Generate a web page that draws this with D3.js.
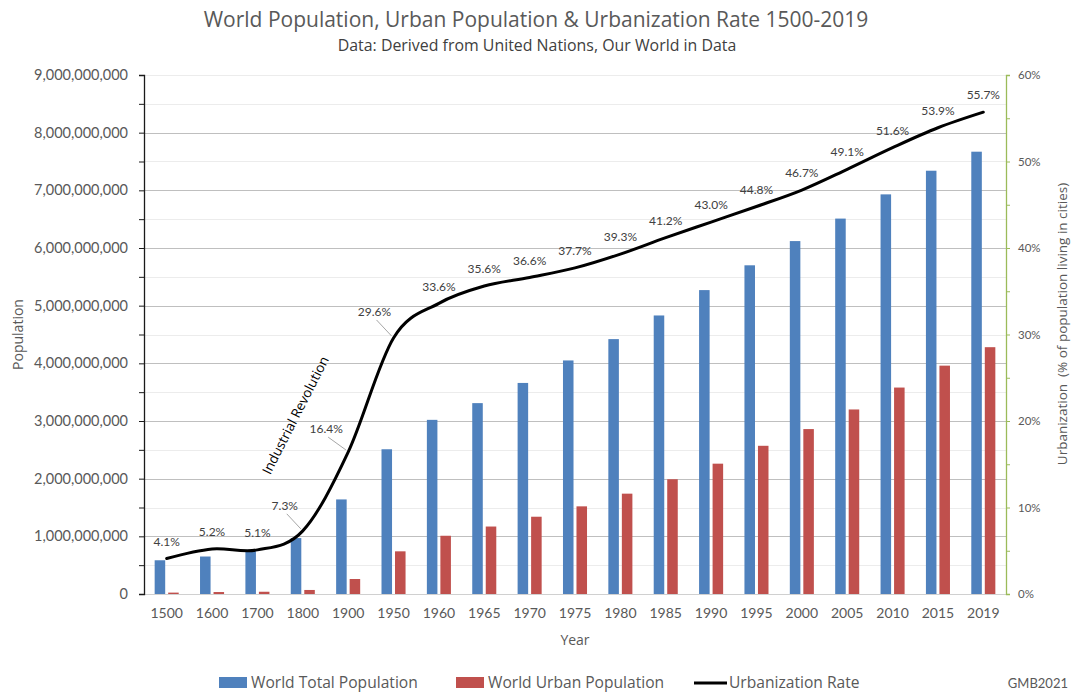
<!DOCTYPE html>
<html>
<head>
<meta charset="utf-8">
<script src="https://cdn.jsdelivr.net/npm/d3@7"></script>
<style>
  html, body { margin: 0; padding: 0; background: #ffffff; }
  svg { display: block; font-family: Lato, "Open Sans", sans-serif; }
</style>
</head>
<body>
<svg id="chart" width="1072" height="695"></svg>
<script>
// ---- data ----
const years = ["1500","1600","1700","1800","1900","1950","1960","1965","1970","1975","1980","1985","1990","1995","2000","2005","2010","2015","2019"];
const totalPopulation = [585e6, 650e6, 760e6, 970e6, 1640e6, 2510e6, 3020e6, 3310e6, 3660e6, 4050e6, 4420e6, 4830e6, 5270e6, 5700e6, 6120e6, 6510e6, 6930e6, 7340e6, 7670e6];
const urbanPopulation = [24e6, 34e6, 39e6, 70e6, 260e6, 740e6, 1010e6, 1170e6, 1340e6, 1520e6, 1740e6, 1990e6, 2260e6, 2570e6, 2860e6, 3200e6, 3580e6, 3960e6, 4280e6];
const urbanizationRate = [4.1, 5.2, 5.1, 7.3, 16.4, 29.6, 33.6, 35.6, 36.6, 37.7, 39.3, 41.2, 43.0, 44.8, 46.7, 49.1, 51.6, 53.9, 55.7];
const popTicks = d3.range(0, 9e9 + 1, 5e8);
const rateTicks = d3.range(0, 61, 5);
const seriesNames = ["World Total Population", "World Urban Population", "Urbanization Rate"];

// ---- layout ----
const svg = d3.select("#chart");
const L = 144, R = 1006, T = 75, B = 594;
const blue = "#4f81bd", red = "#c0504d", green = "#9bbb59", txt = "#595959";
const OS = "'Open Sans', Lato, sans-serif";

const x = d3.scaleBand().domain(years).range([L, R]).paddingInner(0.47).paddingOuter(0.235);
const x1 = d3.scaleBand().domain(["total", "urban"]).range([0, x.bandwidth()]).paddingInner(0.22);
const yL = d3.scaleLinear().domain([0, 9e9]).range([B, T]);
const yR = d3.scaleLinear().domain([0, 60]).range([B, T]);
const xc = d => x(d) + x.bandwidth() / 2;

// gridlines
svg.append("g").selectAll("line").data(popTicks.filter(v => v > 0)).join("line")
  .attr("x1", L).attr("x2", R)
  .attr("y1", d => Math.round(yL(d)) + 0.5).attr("y2", d => Math.round(yL(d)) + 0.5)
  .attr("stroke", d => (d % 1e9 === 0 && d < 9e9) ? "#bfbfbf" : "#ececec")
  .attr("stroke-width", 1);

// x baseline
svg.append("line").attr("x1", L).attr("x2", R).attr("y1", B + 0.5).attr("y2", B + 0.5)
  .attr("stroke", "#d0d0d0");

// bars
const rows = years.map((yr, i) => ({ yr, total: totalPopulation[i], urban: urbanPopulation[i], rate: urbanizationRate[i] }));
const gBars = svg.append("g");
gBars.selectAll("rect.t").data(rows).join("rect").attr("class", "t")
  .attr("x", d => x(d.yr) + x1("total")).attr("width", x1.bandwidth())
  .attr("y", d => yL(d.total)).attr("height", d => B - yL(d.total))
  .attr("fill", blue);
gBars.selectAll("rect.u").data(rows).join("rect").attr("class", "u")
  .attr("x", d => x(d.yr) + x1("urban")).attr("width", x1.bandwidth())
  .attr("y", d => yL(d.urban)).attr("height", d => B - yL(d.urban))
  .attr("fill", red);

// left axis
const axL = svg.append("g").attr("transform", `translate(${L},0)`)
  .call(d3.axisLeft(yL).tickValues(popTicks).tickSize(5).tickPadding(11)
    .tickFormat(d => d % 1e9 === 0 ? d3.format(",")(d) : ""));
axL.select(".domain").attr("stroke", "#1a1a1a").attr("stroke-width", 1.3);
axL.selectAll(".tick line").attr("stroke", "#1a1a1a");
axL.selectAll(".tick text").attr("fill", txt).style("font-size", "14.5px").style("font-family", "Lato");

// right axis
const axR = svg.append("g").attr("transform", `translate(${R},0)`)
  .call(d3.axisRight(yR).tickValues(rateTicks).tickSize(4).tickPadding(8)
    .tickFormat(d => d % 10 === 0 ? d + "%" : ""));
axR.select(".domain").attr("stroke", green).attr("stroke-width", 1.3);
axR.selectAll(".tick line").attr("stroke", green);
axR.selectAll(".tick text").attr("fill", txt).style("font-size", "11.5px").style("font-family", "Lato");

// x axis labels
const axB = svg.append("g").attr("transform", `translate(0,${B})`)
  .call(d3.axisBottom(x).tickSize(0).tickPadding(14));
axB.select(".domain").remove();
axB.selectAll(".tick text").attr("fill", txt).style("font-size", "14px").style("font-family", "Lato");

// urbanization line
const line = d3.line().x(d => xc(d.yr)).y(d => yR(d.rate)).curve(d3.curveCardinal.tension(0));
svg.append("path").datum(rows).attr("d", line)
  .attr("fill", "none").attr("stroke", "#000").attr("stroke-width", 3).attr("stroke-linejoin", "round").attr("stroke-linecap", "round");

// data labels
const special = { "1800": [-18, -25], "1900": [-22, -23], "1950": [-19, -26] };
const gLab = svg.append("g");
rows.forEach(d => {
  const px = xc(d.yr), py = yR(d.rate);
  const off = special[d.yr] || [0, -17];
  const lx = px + off[0], ly = py + off[1];
  if (special[d.yr]) {
    gLab.append("line").attr("x1", lx + 2).attr("y1", ly + 8).attr("x2", px - 2).attr("y2", py - 2)
      .attr("stroke", "#a6a6a6").attr("stroke-width", 1);
  }
  gLab.append("text").attr("x", lx).attr("y", ly).attr("dy", "0.35em")
    .attr("text-anchor", "middle").attr("fill", "#404040")
    .style("font-size", "12px").text(d.rate.toFixed(1) + "%");
});

// Industrial Revolution annotation
const irx = (xc("1800") + xc("1900")) / 2 - 30, iry = yL(3.1e9);
svg.append("text").attr("transform", `translate(${irx},${iry}) rotate(-63)`)
  .attr("text-anchor", "middle").attr("dy", "0.35em").attr("fill", "#000")
  .style("font-family", OS).style("font-size", "13.5px").text("Industrial Revolution");

// titles
svg.append("text").attr("x", 536).attr("y", 27).attr("text-anchor", "middle")
  .attr("fill", txt).style("font-family", OS).style("font-size", "21px")
  .text("World Population, Urban Population & Urbanization Rate 1500-2019");
svg.append("text").attr("x", 537).attr("y", 51).attr("text-anchor", "middle")
  .attr("fill", "#404040").style("font-family", OS).style("font-size", "15.9px")
  .text("Data: Derived from United Nations, Our World in Data");

// axis titles
svg.append("text").attr("transform", `translate(23,${(T + B) / 2}) rotate(-90)`)
  .attr("text-anchor", "middle").attr("fill", txt).style("font-family", OS).style("font-size", "14px").text("Population");
svg.append("text").attr("x", (L + R) / 2).attr("y", 645).attr("text-anchor", "middle")
  .attr("fill", txt).style("font-family", OS).style("font-size", "14px").text("Year");
svg.append("text").attr("transform", `translate(1062,324) rotate(-90)`)
  .attr("text-anchor", "middle").attr("dy", "0.35em").attr("fill", txt)
  .style("font-family", OS).style("font-size", "13.5px")
  .style("white-space", "pre").text("Urbanization  (% of population living in cities)");

// legend
const legY = 683;
const gLeg = svg.append("g").style("font-size", "15.6px").style("font-family", OS);
const legendItems = [
  { name: seriesNames[0], type: "rect", color: blue, x: 219 },
  { name: seriesNames[1], type: "rect", color: red, x: 456 },
  { name: seriesNames[2], type: "line", color: "#000", x: 694 }
];
legendItems.forEach(it => {
  if (it.type === "rect") {
    gLeg.append("rect").attr("x", it.x).attr("y", legY - 6).attr("width", 28).attr("height", 11).attr("fill", it.color);
  } else {
    gLeg.append("line").attr("x1", it.x).attr("x2", it.x + 33).attr("y1", legY).attr("y2", legY)
      .attr("stroke", it.color).attr("stroke-width", 3);
  }
  gLeg.append("text").attr("x", it.x + (it.type === "rect" ? 32 : 35)).attr("y", legY).attr("dy", "0.35em")
    .attr("fill", txt).text(it.name);
});
svg.append("text").attr("x", 1068).attr("y", legY).attr("dy", "0.35em").attr("text-anchor", "end")
  .attr("fill", txt).style("font-size", "13px").text("GMB2021");
</script>
</body>
</html>
